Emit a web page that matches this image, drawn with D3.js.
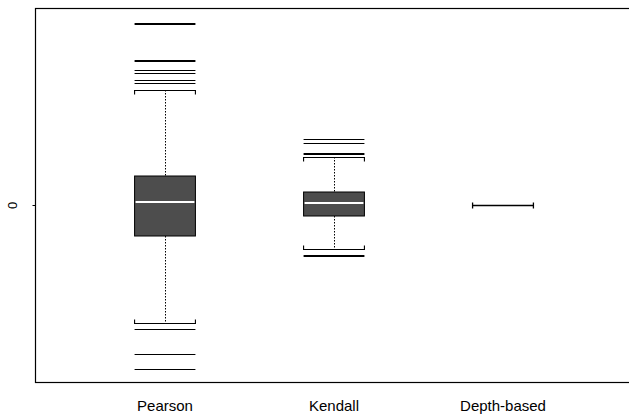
<!DOCTYPE html>
<html>
<head>
<meta charset="utf-8">
<script src="https://cdn.jsdelivr.net/npm/d3@7"></script>
<style>
  body { margin: 0; background: #fff; }
  svg { display: block; font-family: "Liberation Sans", Arial, Helvetica, sans-serif; }
</style>
</head>
<body>
<div id="chart"></div>
<script>
// categories and box statistics
const categories = ['Pearson', 'Kendall', 'Depth-based'];
const lowerWhisker = [-1.18, -0.44, 0];
const q1 = [-0.31, -0.11, 0];
const median = [0.03, 0.02, 0];
const q3 = [0.29, 0.13, 0];
const upperWhisker = [1.15, 0.48, 0];
const outliers = [
  [1.82, 1.805, 1.455, 1.44, 1.35, 1.32, 1.25, 1.225, -1.24, -1.49, -1.64],
  [0.66, 0.625, 0.525, 0.515, -0.50, -0.505],
  []
];
const yTicks = [0];

const W = 629, H = 414;
const margin = { top: 8, right: -1, bottom: 32, left: 35 };

const svg = d3.select('#chart').append('svg')
  .attr('width', W)
  .attr('height', H);

const y = d3.scaleLinear()
  .domain([-1.77, 1.97])
  .range([H - margin.bottom, margin.top]);

const x = d3.scalePoint()
  .domain(categories)
  .range([165, 503]);

const step = x.step();
const halfW = step * 0.18;

// frame
svg.append('rect')
  .attr('x', margin.left + 0.5)
  .attr('y', margin.top + 0.5)
  .attr('width', W - margin.right - margin.left)
  .attr('height', H - margin.bottom - margin.top)
  .attr('fill', 'none')
  .attr('stroke', '#000')
  .attr('stroke-width', 1.2);

// y axis, only the 0 tick
const yAxis = svg.append('g')
  .attr('transform', `translate(${margin.left + 0.5},0)`)
  .call(d3.axisLeft(y).tickValues(yTicks).tickSize(3).tickSizeOuter(0).tickFormat(d3.format('d')));
yAxis.select('.domain').remove();
yAxis.selectAll('.tick line').attr('stroke', '#000');
yAxis.selectAll('.tick text')
  .attr('transform', 'rotate(-90)')
  .attr('x', 0)
  .attr('y', -23)
  .attr('dy', '0.35em')
  .attr('text-anchor', 'middle')
  .style('font-size', '13px')
  .style('font-family', '"Liberation Sans", Arial, sans-serif')
  .attr('fill', '#000');

// category labels
svg.append('g')
  .selectAll('text')
  .data(categories)
  .join('text')
    .attr('x', d => x(d))
    .attr('y', 411)
    .attr('text-anchor', 'middle')
    .style('font-size', '15px')
    .attr('fill', '#000')
    .text(d => d);

const snap = v => Math.round(v) + 0.5;

categories.forEach((cat, i) => {
  const cx = x(cat);
  const x0 = cx - halfW, x1 = cx + halfW;
  const g = svg.append('g');
  const flat = q1[i] === q3[i];

  if (!flat) {
    // whiskers (dotted)
    g.append('line')
      .attr('x1', snap(cx)).attr('x2', snap(cx))
      .attr('y1', y(upperWhisker[i])).attr('y2', y(q3[i]))
      .attr('stroke', '#000').attr('stroke-dasharray', '1.5,1.5');
    g.append('line')
      .attr('x1', snap(cx)).attr('x2', snap(cx))
      .attr('y1', y(q1[i])).attr('y2', y(lowerWhisker[i]))
      .attr('stroke', '#000').attr('stroke-dasharray', '1.5,1.5');

    // box
    g.append('rect')
      .attr('x', x0)
      .attr('y', y(q3[i]))
      .attr('width', x1 - x0)
      .attr('height', y(q1[i]) - y(q3[i]))
      .attr('fill', '#4d4d4d')
      .attr('stroke', '#000')
      .attr('stroke-width', 1);

    // median
    g.append('line')
      .attr('x1', x0 + 1).attr('x2', x1 - 1)
      .attr('y1', y(median[i])).attr('y2', y(median[i]))
      .attr('stroke', '#fff').attr('stroke-width', 2);
  }

  // staples with small end ticks pointing to the box
  const staple = (val, dir) => {
    const sy = snap(y(val));
    g.append('path')
      .attr('d', `M${x0},${sy + dir * 4}V${sy}H${x1}V${sy + dir * 4}`)
      .attr('fill', 'none')
      .attr('stroke', '#000')
      .attr('stroke-width', 1.1);
  };
  if (flat) {
    const sy = snap(y(median[i]));
    g.append('path')
      .attr('d', `M${x0},${sy - 3}V${sy + 3}M${x0},${sy}H${x1}M${x1},${sy - 3}V${sy + 3}`)
      .attr('fill', 'none')
      .attr('stroke', '#000')
      .attr('stroke-width', 1.3);
  } else {
    staple(upperWhisker[i], 1);
    staple(lowerWhisker[i], -1);
  }

  // outliers drawn as horizontal segments
  g.selectAll('line.out')
    .data(outliers[i])
    .join('line')
      .attr('class', 'out')
      .attr('x1', x0).attr('x2', x1)
      .attr('y1', d => snap(y(d))).attr('y2', d => snap(y(d)))
      .attr('stroke', '#000')
      .attr('stroke-width', 1.2);
});
</script>
</body>
</html>
